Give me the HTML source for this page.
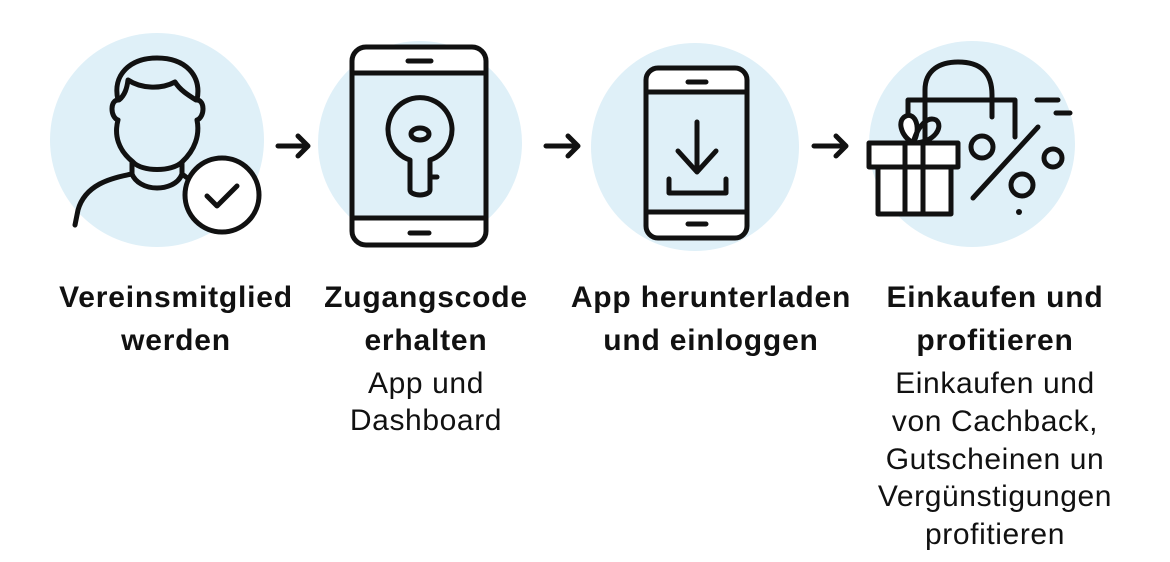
<!DOCTYPE html>
<html><head><meta charset="utf-8"><style>
html,body{margin:0;padding:0;background:#fff;}
svg{display:block}
text{font-family:"Liberation Sans",sans-serif;fill:#111;text-anchor:middle}
.h{font-weight:bold;font-size:30px;letter-spacing:0.8px}
.s{font-size:30px;letter-spacing:0.6px}
</style></head><body>
<svg width="1170" height="562" viewBox="0 0 1170 562" xmlns="http://www.w3.org/2000/svg">
<g fill="#dff0f8">
<circle cx="157" cy="140" r="107"/>
<circle cx="420" cy="143" r="102"/>
<circle cx="695" cy="147" r="104"/>
<circle cx="972" cy="144" r="103"/>
</g>
<g fill="none" stroke="#111" stroke-width="5" stroke-linecap="round" stroke-linejoin="round">
<!-- person -->
<path d="M133,162 C118,150 114,135 118,120 C110,117 110,100 118,100 C112,75 130,58 157,58 C185,58 202,75 197,100 C205,100 205,117 197,120 C200,135 195,150 182,162 C172,172 142,172 133,162 Z"/>
<path d="M119,100 C125,95 127,88 128,80 C140,88 160,90 175,82 C180,90 188,95 196,100"/>
<path d="M132,163 L132,174 C110,178 85,185 78,210 L75,225"/>
<path d="M182,163 L182,174 C178,185 165,188 157,188 C145,188 135,182 132,174"/>
<path d="M182,174 L190,180"/>
<circle cx="222" cy="195" r="37" fill="#fff"/>
<path d="M207,196 L217,206 L237,186"/>
<!-- arrows -->
<path d="M278,146 H308 M298,136 L308,146 L298,156"/>
<path d="M546,146 H578 M568,136 L578,146 L568,156"/>
<path d="M814,146 H846 M836,136 L846,146 L836,156"/>
<!-- tablet -->
<rect x="352" y="47" width="134" height="198" rx="14" fill="#fff"/>
<rect x="352" y="73" width="134" height="145" fill="#dff0f8"/>
<path d="M352,73 H486 M352,218 H486"/>
<path d="M408,61 H431 M410,233 H429"/>
<path d="M410,160 A32,32 0 1 1 430,160 L430,190 A10,5 0 0 1 410,190 Z"/>
<ellipse cx="420" cy="134" rx="9" ry="6"/>
<path d="M430,177 H437"/>
<!-- phone -->
<rect x="646" y="68" width="101" height="170" rx="12" fill="#fff"/>
<rect x="646" y="92" width="101" height="120" fill="#dff0f8"/>
<path d="M646,92 H747 M646,212 H747"/>
<path d="M688,82 H706 M688,224 H706"/>
<path d="M697,122 V172 M678,151 L697,172 L716,151"/>
<path d="M669,179 V193 H726 V179"/>
<!-- gift / bag -->
<path d="M908,142 V100 H1015 V137"/>
<path d="M925,142 V90 C925,70 940,62 958,62 C980,62 992,72 992,95 V117"/>
<path d="M913,143 C900,135 897,120 906,116 C915,112 922,128 913,143 Z" fill="#fff"/>
<path d="M913,143 C918,125 928,116 936,120 C944,126 935,143 913,143"/>
<rect x="869" y="143" width="89" height="24" fill="#fff"/>
<rect x="878" y="167" width="73" height="47" fill="#fff"/>
<path d="M905,143 V214 M923,143 V214"/>
<path d="M973,198 L1038,127"/>
<circle cx="982" cy="147" r="11"/>
<circle cx="1053" cy="158" r="9"/>
<circle cx="1022" cy="185" r="11"/>
<path d="M1037,100 H1058 M1056,113 H1070"/>
</g>
<circle cx="1019" cy="212" r="3" fill="#111"/>
<text class="h" x="176" y="307">Vereinsmitglied</text>
<text class="h" x="176" y="350">werden</text>
<text class="h" x="426" y="307">Zugangscode</text>
<text class="h" x="426" y="350">erhalten</text>
<text class="s" x="426" y="393">App und</text>
<text class="s" x="426" y="430">Dashboard</text>
<text class="h" x="711" y="307">App herunterladen</text>
<text class="h" x="711" y="350">und einloggen</text>
<text class="h" x="995" y="307">Einkaufen und</text>
<text class="h" x="995" y="350">profitieren</text>
<text class="s" x="995" y="393">Einkaufen und</text>
<text class="s" x="995" y="431">von Cachback,</text>
<text class="s" x="995" y="469">Gutscheinen un</text>
<text class="s" x="995" y="506">Vergünstigungen</text>
<text class="s" x="995" y="544">profitieren</text>
</svg>
</body></html>
